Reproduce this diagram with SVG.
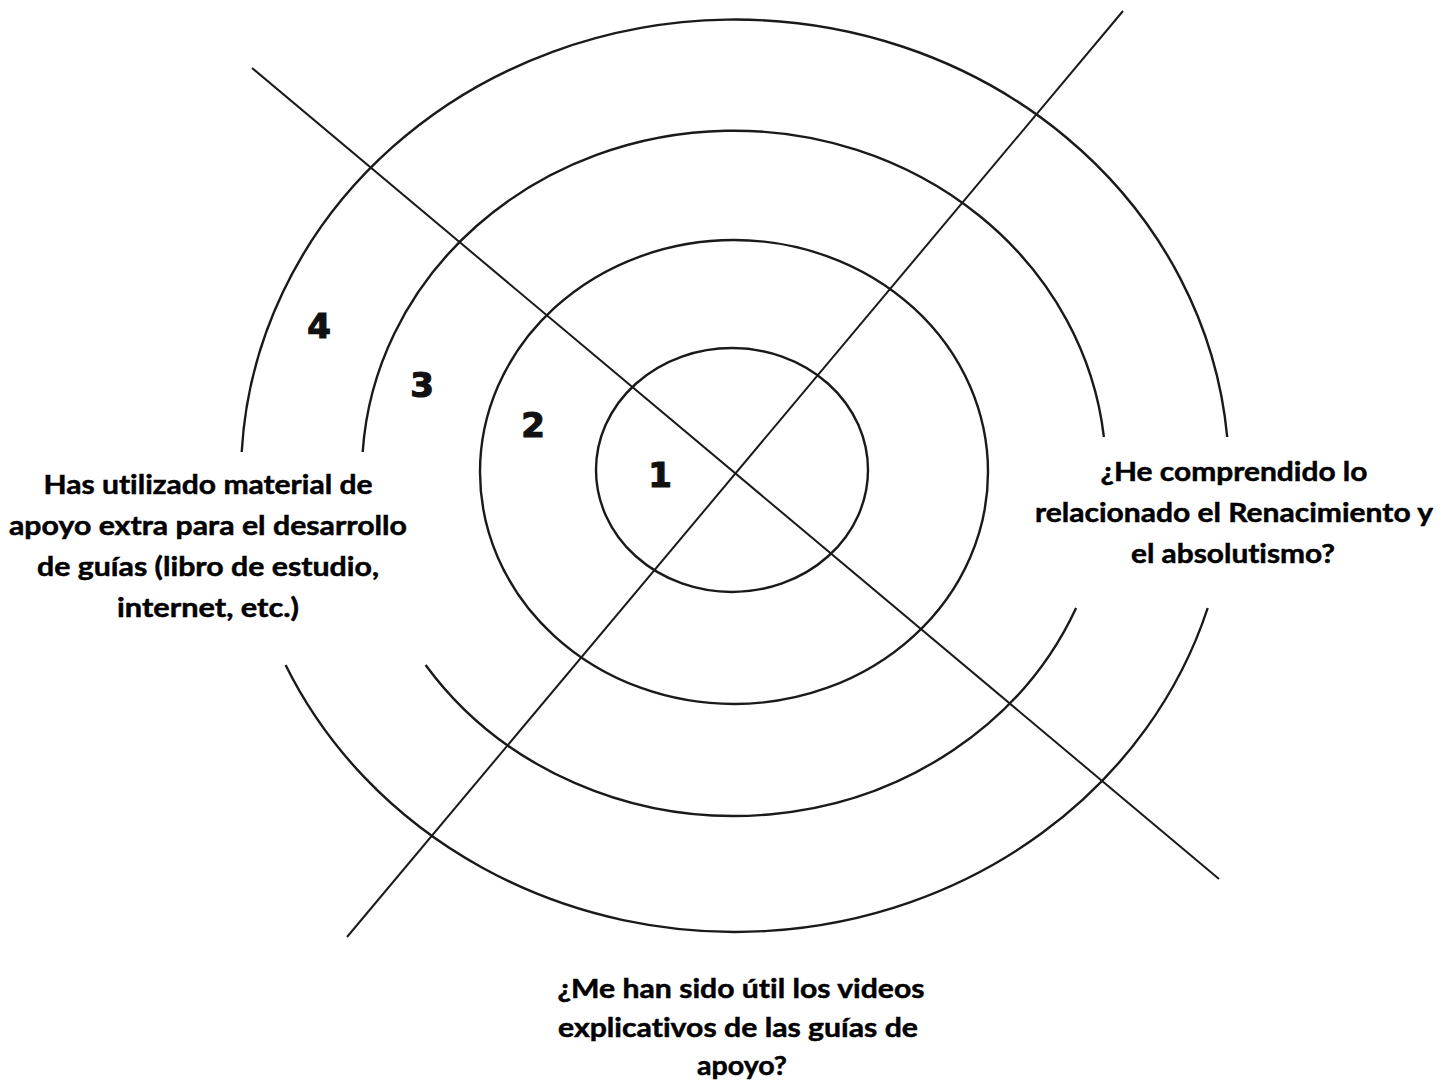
<svg xmlns="http://www.w3.org/2000/svg" width="1455" height="1088" viewBox="0 0 1455 1088">
  <style>
    .ring { fill: none; stroke: #1a1a1a; stroke-width: 2.4; }
    .axis { fill: none; stroke: #1a1a1a; stroke-width: 2; }
    .num { font-family: "DejaVu Sans", sans-serif; font-weight: bold; font-size: 34px; fill: #111; stroke: #111; stroke-width: 1.2; text-anchor: middle; }
    .lbl { font-family: Lato, "Liberation Sans", sans-serif; font-weight: bold; font-size: 27px; fill: #000; stroke: #000; stroke-width: 0.5; text-anchor: middle; font-variant-ligatures: none; font-feature-settings: "liga" 0; }
  </style>
  <rect width="1455" height="1088" fill="#fff"/>
  <g id="rings">
    <g id="ring-4">
      <path class="ring" d="M 241.7 452 A 494 456.5 0 0 1 1227.2 437"/>
      <path class="ring" d="M 1207.7 608 A 494 456.5 0 0 1 285.6 665"/>
    </g>
    <g id="ring-3">
      <path class="ring" d="M 362.7 452 A 372 342.5 0 0 1 1103.9 437"/>
      <path class="ring" d="M 1076.1 608 A 372 342.5 0 0 1 425.6 665"/>
    </g>
    <ellipse id="ring-2" class="ring" cx="734" cy="472" rx="254" ry="232"/>
    <ellipse id="ring-1" class="ring" cx="732" cy="470" rx="136" ry="122"/>
  </g>
  <g id="connectors">
    <line class="axis" x1="252" y1="68" x2="1219" y2="879"/>
    <line class="axis" x1="1123" y1="11" x2="347" y2="937"/>
  </g>
  <g id="numbers">
    <text class="num" x="319" y="338">4</text>
    <text class="num" x="422" y="397">3</text>
    <text class="num" x="533" y="437">2</text>
    <text class="num" x="660" y="487">1</text>
  </g>
  <g id="label-left">
    <text class="lbl" x="208" y="494" textLength="329" lengthAdjust="spacingAndGlyphs">Has utilizado material de</text>
    <text class="lbl" x="208" y="535" textLength="398" lengthAdjust="spacingAndGlyphs">apoyo extra para el desarrollo</text>
    <text class="lbl" x="208" y="576" textLength="342" lengthAdjust="spacingAndGlyphs">de guías (libro de estudio,</text>
    <text class="lbl" x="208" y="617" textLength="182" lengthAdjust="spacingAndGlyphs">internet, etc.)</text>
  </g>
  <g id="label-right">
    <text class="lbl" x="1234" y="481" textLength="267" lengthAdjust="spacingAndGlyphs">¿He comprendido lo</text>
    <text class="lbl" x="1234" y="522" textLength="398" lengthAdjust="spacingAndGlyphs">relacionado el Renacimiento y</text>
    <text class="lbl" x="1233" y="563" textLength="204" lengthAdjust="spacingAndGlyphs">el absolutismo?</text>
  </g>
  <g id="label-bottom">
    <text class="lbl" x="741" y="998" textLength="367" lengthAdjust="spacingAndGlyphs">¿Me han sido útil los videos</text>
    <text class="lbl" x="738" y="1037" textLength="360" lengthAdjust="spacingAndGlyphs">explicativos de las guías de</text>
    <text class="lbl" x="742" y="1075" textLength="90" lengthAdjust="spacingAndGlyphs">apoyo?</text>
  </g>
</svg>
